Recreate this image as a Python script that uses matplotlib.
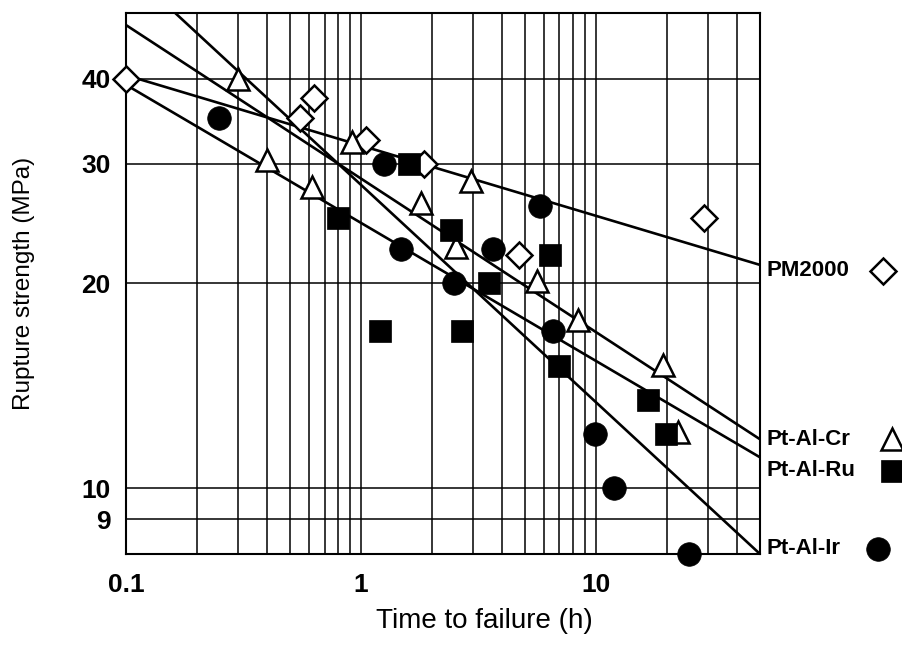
import matplotlib.pyplot as plt
from matplotlib.ticker import LogLocator, NullLocator, NullFormatter

plt.rcParams['font.family'] = ['Liberation Sans', 'DejaVu Sans']

# measured points (time to failure h, rupture strength MPa)
pm_t = [0.1, 0.55, 0.63, 1.05, 1.85, 4.7, 29]
pm_s = [40, 35, 37.5, 32.5, 30, 22, 25]
cr_t = [0.3, 0.4, 0.62, 0.92, 1.8, 2.55, 2.93, 5.6, 8.4, 19.4, 22.3]
cr_s = [40, 30.4, 27.7, 32.3, 26.3, 22.6, 28.3, 20.2, 17.7, 15.2, 12.1]
ru_t = [0.8, 1.2, 1.6, 2.43, 2.7, 3.5, 6.4, 7.0, 16.6, 19.9]
ru_s = [25, 17, 30, 24, 17, 20, 22, 15.1, 13.5, 12]
ir_t = [0.25, 1.25, 1.48, 2.5, 3.66, 5.8, 6.6, 9.9, 12, 25]
ir_s = [35, 30, 22.5, 20, 22.5, 26, 17, 12, 10, 8]

# trend line end points
pm_fit_t = [0.1, 50]
pm_fit_s = [40.5, 21.3]
cr_fit_t = [0.1, 50]
cr_fit_s = [48.0, 11.8]
ru_fit_t = [0.1, 50]
ru_fit_s = [39.2, 11.1]
ir_fit_t = [0.162, 50]
ir_fit_s = [50, 8.0]

names = ['PM2000', 'Pt-Al-Cr', 'Pt-Al-Ru', 'Pt-Al-Ir']
name_y = [20.9, 11.8, 10.6, 8.15]

x_ticks = [0.1, 1, 10]
x_labels = ['0.1', '1', '10']
y_ticks = [9, 10, 20, 30, 40]
y_labels = ['9', '10', '20', '30', '40']

fig = plt.figure(figsize=(9.02, 6.45), dpi=100)
ax = fig.add_axes([126 / 902, 91 / 645, 634 / 902, 541 / 645])
ax.set_xscale('log')
ax.set_yscale('log')
ax.set_xlim(0.1, 50)
ax.set_ylim(8, 50)

ax.set_xticks(x_ticks, x_labels)
ax.xaxis.set_minor_locator(LogLocator(base=10, subs=range(2, 10), numticks=20))
ax.xaxis.set_minor_formatter(NullFormatter())
ax.set_yticks(y_ticks, y_labels)
ax.yaxis.set_minor_locator(NullLocator())
ax.yaxis.set_minor_formatter(NullFormatter())

ax.grid(which='both', axis='x', color='black', lw=1.1)
ax.grid(which='major', axis='y', color='black', lw=1.1)
ax.set_axisbelow(True)
ax.tick_params(which='both', length=0, labelsize=19)
ax.tick_params(axis='y', pad=11)
ax.tick_params(axis='x', pad=14)
for lab in ax.get_xticklabels() + ax.get_yticklabels():
    lab.set_fontweight('bold')
for side in ax.spines:
    ax.spines[side].set_linewidth(1.5)

fits = [(pm_fit_t, pm_fit_s), (cr_fit_t, cr_fit_s),
        (ru_fit_t, ru_fit_s), (ir_fit_t, ir_fit_s)]
for ft, fs in fits:
    ax.plot(ft, fs, color='black', lw=1.9, zorder=3)

styles = [
    dict(marker='D', ms=13.5, mfc='white', mec='black', mew=1.8),
    dict(marker='^', ms=16, mfc='white', mec='black', mew=1.8),
    dict(marker='s', ms=16, mfc='black', mec='black', mew=0.5),
    dict(marker='o', ms=17, mfc='black', mec='black', mew=0.5),
]
series = [(pm_t, pm_s), (cr_t, cr_s), (ru_t, ru_s), (ir_t, ir_s)]
for (t, s), st in zip(series, styles):
    ax.plot(t, s, ls='none', zorder=4, clip_on=False, **st)

# labels to the right of the plot
trans = ax.get_yaxis_transform()
marker_x = [1.194, 1.208, 1.208, 1.186]
for name, y, st, mx in zip(names, name_y, styles, marker_x):
    ax.text(1.01, y, name, transform=trans, ha='left', va='center',
            fontsize=16, fontweight='bold')
    ax.plot([mx], [y], transform=trans, clip_on=False, ls='none', **st)

ax.set_xlabel('Time to failure (h)', fontsize=20)
ax.xaxis.set_label_coords(0.565, -0.124)
ax.xaxis.label.set_va('center')
ax.set_ylabel('Rupture strength (MPa)', fontsize=17.5)
ax.yaxis.set_label_coords(-0.161, 0.5)
ax.yaxis.label.set_va('center')

plt.savefig('out.png', dpi=100)
